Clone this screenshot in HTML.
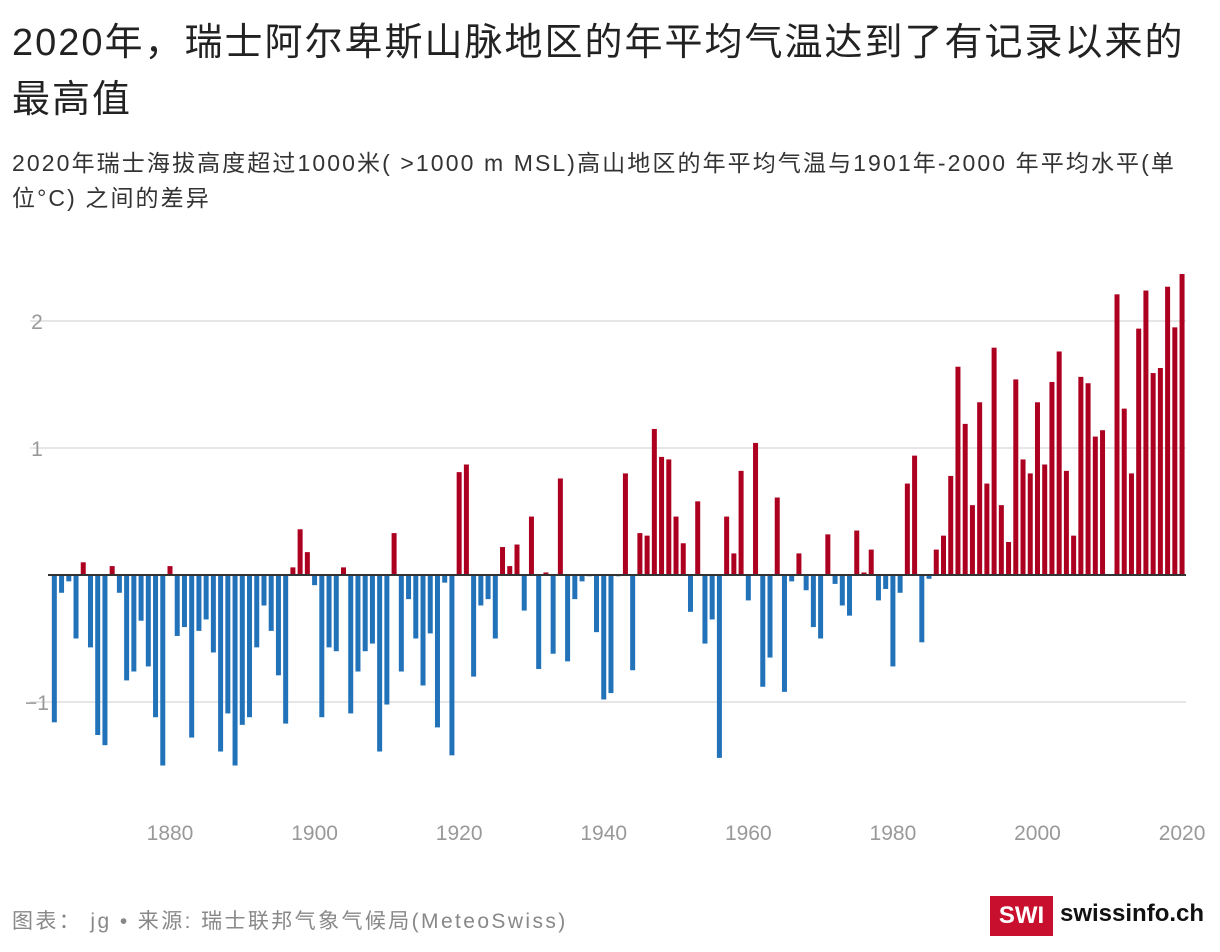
<!DOCTYPE html>
<html><head><meta charset="utf-8"><style>
body{margin:0;width:1220px;height:952px;background:#fff;font-family:"Liberation Sans","Noto Sans CJK SC",sans-serif;overflow:hidden;position:relative;color:#333}
.t{position:absolute;left:12px;top:15px;font-size:38px;line-height:57px;color:#222;width:1210px;white-space:nowrap;letter-spacing:2px}
.s{position:absolute;left:12px;top:146px;font-size:23px;line-height:35px;color:#333;width:1210px;white-space:nowrap;letter-spacing:2.1px}
.f{position:absolute;left:12px;top:905px;font-size:21px;color:#888;letter-spacing:2.4px;white-space:nowrap}
.logo{position:absolute;left:990px;top:896px;width:63px;height:40px;background:#c8102e;color:#fff;font-weight:bold;font-size:24px;line-height:40px;text-align:center}
.site{position:absolute;left:1060px;top:900px;font-size:24px;font-weight:bold;color:#111}
</style></head><body>
<div class="t">2020年，瑞士阿尔卑斯山脉地区的年平均气温达到了有记录以来的<br>最高值</div>
<div class="s">2020年瑞士海拔高度超过1000米( &gt;1000 m MSL)高山地区的年平均气温与1901年-2000 年平均水平(单<br>位°C) 之间的差异</div>
<svg id="c" width="1220" height="952" style="position:absolute;left:0;top:0"></svg>
<div class="f">图表： jg • 来源: 瑞士联邦气象气候局(MeteoSwiss)</div>
<div class="logo">SWI</div>
<div class="site">swissinfo.ch</div>
<script>
const startYear=1864;
const values=[-1.16,-0.14,-0.05,-0.50,0.10,-0.57,-1.26,-1.34,0.07,-0.14,-0.83,-0.76,-0.36,-0.72,-1.12,-1.50,
0.07,-0.48,-0.41,-1.28,-0.44,-0.35,-0.61,-1.39,-1.09,-1.50,-1.18,-1.12,-0.57,-0.24,-0.44,-0.79,-1.17,0.06,0.36,0.18,
-0.08,-1.12,-0.57,-0.60,0.06,-1.09,-0.76,-0.60,-0.54,-1.39,-1.02,0.33,-0.76,-0.19,-0.50,-0.87,-0.46,-1.20,-0.06,-1.42,
0.81,0.87,-0.80,-0.24,-0.19,-0.50,0.22,0.07,0.24,-0.28,0.46,-0.74,0.02,-0.62,0.76,-0.68,-0.19,-0.05,-0.01,-0.45,
-0.98,-0.93,-0.01,0.80,-0.75,0.33,0.31,1.15,0.93,0.91,0.46,0.25,-0.29,0.58,-0.54,-0.35,-1.44,0.46,0.17,0.82,
-0.20,1.04,-0.88,-0.65,0.61,-0.92,-0.05,0.17,-0.12,-0.41,-0.50,0.32,-0.07,-0.24,-0.32,0.35,0.02,0.20,-0.20,-0.11,
-0.72,-0.14,0.72,0.94,-0.53,-0.03,0.20,0.31,0.78,1.64,1.19,0.55,1.36,0.72,1.79,0.55,0.26,1.54,0.91,0.80,
1.36,0.87,1.52,1.76,0.82,0.31,1.56,1.51,1.09,1.14,0,2.21,1.31,0.80,1.94,2.24,1.59,1.63,2.27,1.95,2.37];
const yTicks=[2,1,-1];
const yTickLabels=["2","1","−1"];
const xTicks=[1880,1900,1920,1940,1960,1980,2000,2020];
const NS="http://www.w3.org/2000/svg",svg=document.getElementById('c');
const x=yr=>170+(yr-1880)*7.229;
const y=v=>575-v*127;
function mk(t,a){const e=document.createElementNS(NS,t);for(const k in a)e.setAttribute(k,a[k]);svg.appendChild(e);return e;}
yTicks.forEach((t,i)=>{
 const g=mk('line',{x1:30,x2:1186,y1:y(t),y2:y(t),stroke:'#e6e6e6','stroke-width':2});
 
 
 const l=mk('text',{x:37,y:y(t)+8,'text-anchor':'middle','font-size':21,fill:'#999','font-family':'Liberation Sans, sans-serif'});
 l.textContent=yTickLabels[i];
 
 
});
values.forEach((v,i)=>{
 const cx=x(startYear+i);
 const r=mk('rect',{x:cx-2.5,width:5,y:Math.min(y(v),y(0)),height:Math.abs(y(v)-y(0)),fill:v>=0?'#ad0020':'#2272b9'});
 
 
});
const z=mk('line',{x1:48,x2:1186,y1:y(0),y2:y(0),stroke:'#333','stroke-width':2});


xTicks.forEach(t=>{
 const l=mk('text',{x:x(t),y:840,'text-anchor':'middle','font-size':21,fill:'#999','font-family':'Liberation Sans, sans-serif'});
 l.textContent=t;
 
 
});
</script>
</body></html>
